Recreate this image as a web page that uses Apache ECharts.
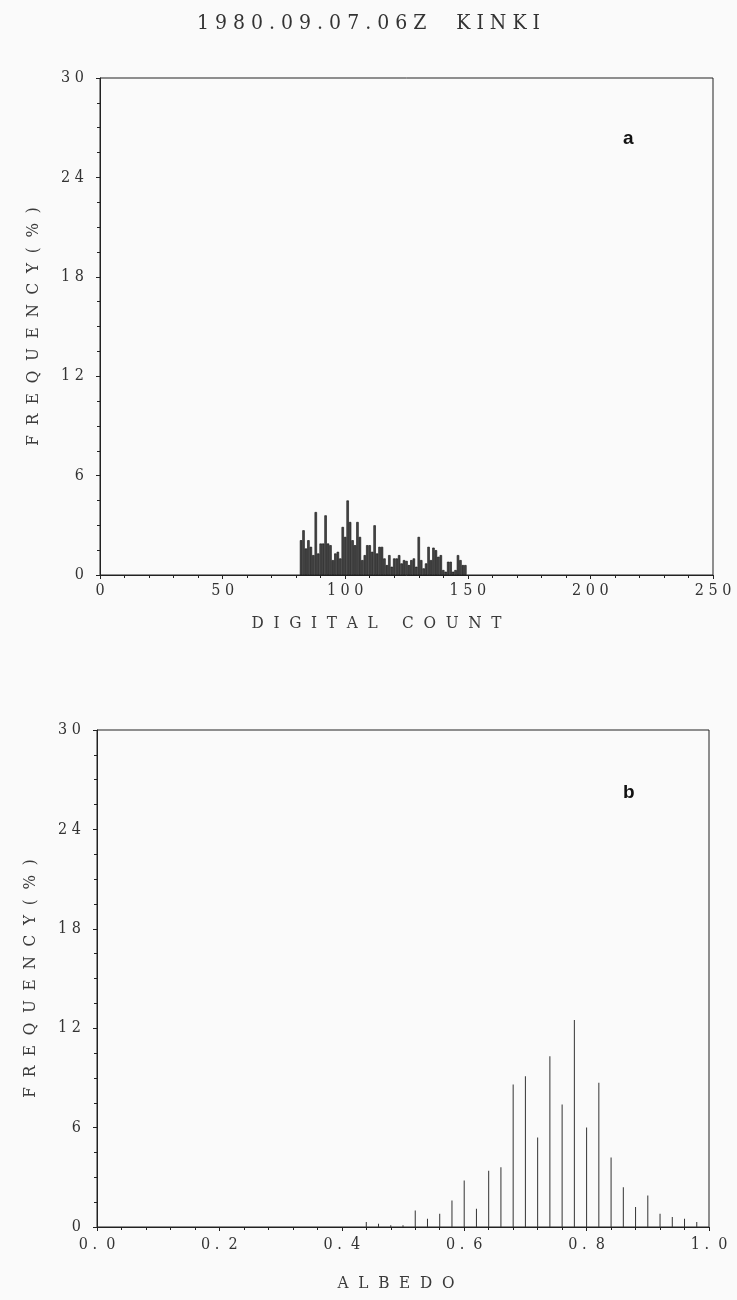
<!DOCTYPE html>
<html>
<head>
<meta charset="utf-8">
<script src="https://cdn.jsdelivr.net/npm/echarts@6/dist/echarts.min.js"></script>
<style>
  html, body { margin: 0; padding: 0; background: #fafafa; }
  #chart { width: 737px; height: 1300px; }
</style>
</head>
<body>
<div id="chart"></div>
<script>
// panel a: frequency (%) for each digital count
const countStart = 82
const countFreq = [
  2.1, 2.7, 1.6, 2.1, 1.7, 1.2, 3.8, 1.3, 1.9, 1.9,   // 82-91
  3.6, 1.9, 1.8, 0.9, 1.3, 1.4, 1.0, 2.9, 2.3, 4.5,   // 92-101
  3.2, 2.1, 1.8, 3.2, 2.3, 0.9, 1.2, 1.8, 1.8, 1.4,   // 102-111
  3.0, 1.3, 1.7, 1.7, 1.0, 0.6, 1.2, 0.5, 1.0, 1.0,   // 112-121
  1.2, 0.7, 0.9, 0.85, 0.6, 0.9, 1.0, 0.5, 2.3, 0.9,  // 122-131
  0.4, 0.7, 1.7, 0.9, 1.65, 1.5, 1.1, 1.2, 0.3, 0.2,  // 132-141
  0.8, 0.8, 0.2, 0.3, 1.2, 0.9, 0.6, 0.6              // 142-149
]

// panel b: frequency (%) per albedo bin
const albedo = [0.44, 0.46, 0.48, 0.50, 0.52, 0.54, 0.56, 0.58, 0.60, 0.62,
  0.64, 0.66, 0.68, 0.70, 0.72, 0.74, 0.76, 0.78, 0.80, 0.82,
  0.84, 0.86, 0.88, 0.90, 0.92, 0.94, 0.96, 0.98]
const albedoFreq = [0.3, 0.2, 0.1, 0.1, 1.0, 0.5, 0.8, 1.6, 2.8, 1.1,
  3.4, 3.6, 8.6, 9.1, 5.4, 10.3, 7.4, 12.5, 6.0, 8.7,
  4.2, 2.4, 1.2, 1.9, 0.8, 0.6, 0.5, 0.3]

const yTicks = [0, 6, 12, 18, 24, 30]
const countTicks = [0, 50, 100, 150, 200, 250]

const titleText = '1980.09.07.06Z KINKI'
const countName = 'DIGITAL COUNT'
const albedoName = 'ALBEDO'
const freqName = 'FREQUENCY(%)'

const font = '"DejaVu Serif Condensed", "Liberation Sans Narrow", "DejaVu Sans Condensed", serif'
const spaced = (s, gap = ' ') => s.split('').join(gap)

const chart = echarts.init(document.getElementById('chart'))

const yAxisBase = {
  type: 'value',
  min: 0,
  max: 30,
  interval: 6,
  name: spaced(freqName, '  '),
  nameLocation: 'middle',
  nameGap: 58,
  nameTextStyle: { fontFamily: font, fontSize: 17, color: '#3a3a3a' },
  axisLine: { show: true, lineStyle: { color: '#222', width: 1 } },
  axisTick: { show: true, length: 4, lineStyle: { color: '#222' } },
  minorTick: { show: true, splitNumber: 4, length: 3, lineStyle: { color: '#222' } },
  splitLine: { show: false },
  axisLabel: {
    fontFamily: font, fontSize: 16, color: '#333', margin: 16,
    formatter: v => yTicks.includes(v) ? spaced(String(v)) : ''
  }
}

const xAxisBase = {
  type: 'value',
  nameLocation: 'middle',
  nameTextStyle: { fontFamily: font, fontSize: 17, color: '#3a3a3a' },
  axisLine: { show: true, onZero: false, lineStyle: { color: '#222', width: 1 } },
  axisTick: { show: true, length: 4, lineStyle: { color: '#222' } },
  minorTick: { show: true, splitNumber: 5, length: 3, lineStyle: { color: '#222' } },
  splitLine: { show: false }
}

const option = {
  backgroundColor: '#fafafa',
  animation: false,
  title: [
    {
      text: spaced(titleText.replace(' ', '  ')),
      left: 'center',
      top: 8,
      textStyle: { fontFamily: font, fontSize: 21, fontWeight: 'normal', color: '#333' }
    },
    {
      text: 'a', left: 618, top: 124,
      textStyle: { fontFamily: 'Arial, "Liberation Sans", sans-serif', fontSize: 19, fontWeight: 'bold', color: '#111' }
    },
    {
      text: 'b', left: 618, top: 778,
      textStyle: { fontFamily: 'Arial, "Liberation Sans", sans-serif', fontSize: 19, fontWeight: 'bold', color: '#111' }
    }
  ],
  grid: [
    { left: 100, right: 24, top: 78, height: 497, show: true, borderColor: '#222', borderWidth: 1, backgroundColor: 'transparent' },
    { left: 97, right: 28, top: 730, height: 497, show: true, borderColor: '#222', borderWidth: 1, backgroundColor: 'transparent' }
  ],
  xAxis: [
    Object.assign({}, xAxisBase, {
      gridIndex: 0,
      min: 0, max: 250, interval: 50,
      name: spaced(countName, '  '),
      nameGap: 40,
      nameTextStyle: { fontFamily: font, fontSize: 17, color: '#3a3a3a', padding: [0, 60, 0, 0] },
      axisLabel: {
        fontFamily: font, fontSize: 16, color: '#333', margin: 8,
        formatter: v => countTicks.includes(v) ? spaced(String(v)) : ''
      }
    }),
    Object.assign({}, xAxisBase, {
      gridIndex: 1,
      min: 0, max: 1, interval: 0.2,
      name: spaced(albedoName, '  '),
      nameGap: 48,
      nameTextStyle: { fontFamily: font, fontSize: 17, color: '#3a3a3a', padding: [0, 14, 0, 0] },
      axisLabel: {
        fontFamily: font, fontSize: 16, color: '#333', margin: 10,
        formatter: v => spaced(v.toFixed(1)).replace('. ', '.  ')
      }
    })
  ],
  yAxis: [
    Object.assign({}, yAxisBase, { gridIndex: 0 }),
    Object.assign({}, yAxisBase, { gridIndex: 1 })
  ],
  series: [
    {
      type: 'bar',
      xAxisIndex: 0,
      yAxisIndex: 0,
      barWidth: 2.4,
      data: countFreq.map((v, i) => [countStart + i, v]),
      itemStyle: { color: '#4a4a4a', borderColor: '#0a0a0a', borderWidth: 0.6 }
    },
    {
      type: 'bar',
      xAxisIndex: 1,
      yAxisIndex: 1,
      barWidth: 1,
      data: albedo.map((a, i) => [a, albedoFreq[i]]),
      itemStyle: { color: '#333' }
    }
  ]
}

chart.setOption(option)
</script>
</body>
</html>
